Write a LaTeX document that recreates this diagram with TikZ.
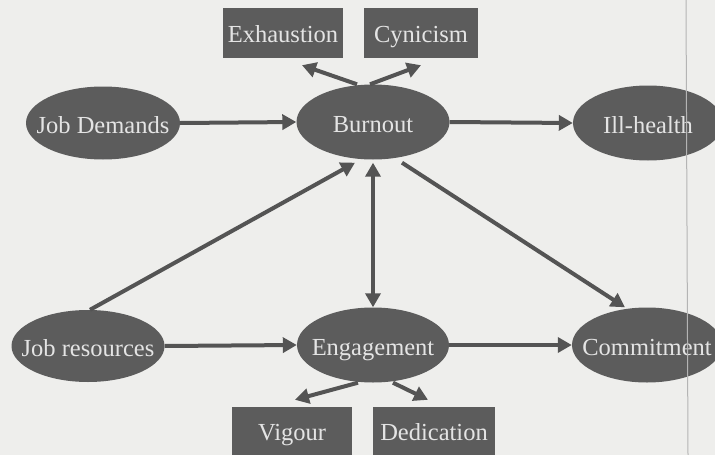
\documentclass[tikz,border=0pt]{standalone}
\usepackage{fontspec}
\setmainfont{Liberation Serif}
\usetikzlibrary{shapes.geometric,arrows.meta,calc}
\definecolor{bgc}{HTML}{EEEEEC}
\definecolor{fillc}{HTML}{5C5C5C}
\definecolor{txtc}{HTML}{E4E4E4}
\definecolor{arrc}{HTML}{545454}
\definecolor{scanc}{HTML}{B4B4B4}
\newcommand{\ovtext}[1]{\makebox[0pt]{#1}}
\tikzset{
  oval/.style={ellipse, fill=fillc, draw=none, inner sep=0pt, text=txtc,
    text height=20pt, text depth=0pt,
    font=\fontsize{24.5}{28}\selectfont},
  sqbox/.style={rectangle, fill=fillc, draw=none, inner sep=0pt, text=txtc,
    text height=18pt, text depth=0pt,
    font=\fontsize{24.5}{28}\selectfont},
  conn/.style={draw=arrc, line width=4pt, -{Triangle[length=14pt,width=15pt]}},
  dconn/.style={draw=arrc, line width=4pt, {Triangle[length=14pt,width=15pt]}-{Triangle[length=14pt,width=15pt]}},
}
\begin{document}
\begin{tikzpicture}[x=1pt,y=-1pt]
\fill[bgc] (0,0) rectangle (715,455);
\useasboundingbox (0,0) rectangle (715,455);
% nodes
\node[oval, minimum width=154pt, minimum height=73pt] (jd) at (103,123) {\ovtext{Job Demands}};
\node[oval, minimum width=153pt, minimum height=75pt] (bo) at (373,122) {\ovtext{Burnout}};
\node[oval, minimum width=150pt, minimum height=75pt] (ih) at (648,123) {\ovtext{Ill-health}};
\node[oval, minimum width=153pt, minimum height=72pt] (jr) at (88,346) {\ovtext{Job resources}};
\node[oval, minimum width=152pt, minimum height=75pt] (en) at (373,345) {\ovtext{Engagement}};
\node[oval, minimum width=150pt, minimum height=75pt] (cm) at (647,345) {\ovtext{Commitment}};
\node[sqbox, minimum width=120pt, minimum height=50pt] (ex) at (283,33) {Exhaustion};
\node[sqbox, minimum width=114pt, minimum height=50pt] (cy) at (421,33) {Cynicism};
\node[sqbox, minimum width=120pt, minimum height=48pt] (vg) at (292,431) {Vigour};
\node[sqbox, minimum width=122pt, minimum height=48pt] (de) at (434,431) {Dedication};
% scan line
\coordinate (scantop) at (686,0);
\coordinate (scanbot) at (688,455);
\draw[scanc, line width=1pt] (scantop) -- (scanbot);
% connectors
\draw[conn] (jd.east) -- (bo.west);
\draw[conn] (bo.east) -- (ih.west);
\draw[conn] (jr.east) -- (en.west);
\draw[conn] (en.east) -- (cm.west);
\draw[conn] ($(bo.north)+(-16,0)$) -- ($(ex.south)+(19,7)$);
\draw[conn] ($(bo.north)+(-3,0)$) -- ($(cy.south)+(0,7)$);
\draw[conn] ($(en.south)+(-15,0)$) -- ($(vg.north)+(3,-7)$);
\draw[conn] ($(en.south)+(20,0)$) -- ($(de.north)+(-6,-7)$);
\draw[conn] ($(jr.north)+(2,0)$) -- ($(bo.south)+(-18,3)$);
\draw[dconn] ($(bo.south)+(0,3)$) -- (en.north);
\draw[conn] ($(bo.south)+(29,3)$) -- ($(cm.north)+(-22,0)$);
\end{tikzpicture}
\end{document}
